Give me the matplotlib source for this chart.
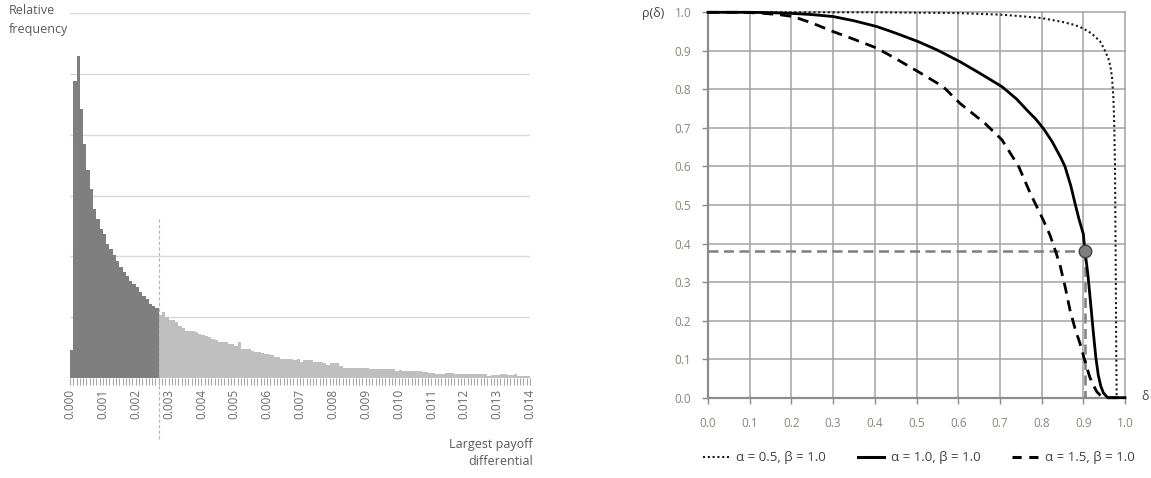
import numpy as np
import matplotlib
matplotlib.use("Agg")
import matplotlib.pyplot as plt
from matplotlib.lines import Line2D

plt.rcParams['font.family'] = ['Open Sans', 'DejaVu Sans']

# ---------------- Left chart data (histogram, bins of 0.0001) ----------------
bin_width = 0.0001
dark_freq = [0.46, 4.89, 5.29, 4.43, 3.85, 3.42, 3.10, 2.78, 2.62, 2.45, 2.36, 2.20, 2.12,
             2.02, 1.92, 1.82, 1.74, 1.67, 1.60, 1.55, 1.50, 1.42, 1.34, 1.30, 1.22, 1.19, 1.15]
light_freq = [1.03, 1.08, 1.00, 0.96, 0.96, 0.92, 0.86, 0.82, 0.78, 0.77, 0.77, 0.76, 0.73,
              0.71, 0.69, 0.67, 0.64, 0.62, 0.60, 0.60, 0.59, 0.56, 0.56, 0.53, 0.59, 0.48,
              0.48, 0.48, 0.45, 0.42, 0.42, 0.41, 0.40, 0.40, 0.37, 0.34, 0.34,
              0.32, 0.31, 0.31, 0.31, 0.29, 0.31, 0.27, 0.30, 0.29, 0.29, 0.27, 0.27, 0.26,
              0.24, 0.22, 0.24, 0.24, 0.24, 0.20, 0.16, 0.16, 0.16, 0.16, 0.16, 0.16, 0.16,
              0.16, 0.14, 0.14, 0.14, 0.14, 0.14, 0.14, 0.14, 0.14, 0.12,
              0.13, 0.12, 0.12, 0.12, 0.11, 0.12, 0.11, 0.10, 0.10, 0.09, 0.09, 0.07, 0.07,
              0.07, 0.08, 0.09, 0.09, 0.07, 0.06, 0.06, 0.06, 0.06, 0.06, 0.06, 0.06, 0.07,
              0.07, 0.04, 0.05, 0.05, 0.05, 0.07, 0.06, 0.05, 0.05, 0.06, 0.04, 0.04, 0.04, 0.04]
hist_tick_values = [0.000, 0.001, 0.002, 0.003, 0.004, 0.005, 0.006, 0.007,
                    0.008, 0.009, 0.010, 0.011, 0.012, 0.013, 0.014]
hist_tick_labels = ["0.000", "0.001", "0.002", "0.003", "0.004", "0.005", "0.006", "0.007",
                    "0.008", "0.009", "0.010", "0.011", "0.012", "0.013", "0.014"]
threshold = 0.0027

# ---------------- Right chart data ----------------
d_a05 = [0.0, 0.1, 0.2, 0.3, 0.4, 0.5, 0.6, 0.7, 0.75, 0.8, 0.85, 0.88, 0.9, 0.92, 0.94,
         0.95, 0.96, 0.965, 0.969, 0.972, 0.974, 0.976, 0.977, 0.978, 0.979, 0.98, 0.99, 1.0]
r_a05 = [1.0, 1.0, 1.0, 1.0, 1.0, 0.999, 0.998, 0.994, 0.99, 0.985, 0.975, 0.967, 0.958, 0.945,
         0.925, 0.905, 0.88, 0.86, 0.83, 0.78, 0.72, 0.60, 0.45, 0.30, 0.12, 0.0, 0.0, 0.0]

d_a10 = [0.0, 0.1, 0.15, 0.204, 0.25, 0.30, 0.35, 0.405, 0.45, 0.504, 0.55, 0.604, 0.65,
         0.705, 0.74, 0.765, 0.785, 0.804, 0.825, 0.845, 0.856, 0.87, 0.88, 0.89, 0.9, 0.904,
         0.911, 0.918, 0.924, 0.93, 0.936, 0.942, 0.948, 0.955, 0.96, 1.0]
r_a10 = [1.0, 1.0, 0.999, 0.997, 0.994, 0.989, 0.978, 0.963, 0.946, 0.924, 0.902, 0.872, 0.843,
         0.807, 0.775, 0.746, 0.724, 0.699, 0.665, 0.625, 0.60, 0.55, 0.505, 0.462, 0.425, 0.38,
         0.32, 0.24, 0.17, 0.105, 0.058, 0.03, 0.013, 0.004, 0.0, 0.0]

d_a15 = [0.0, 0.08, 0.125, 0.17, 0.204, 0.25, 0.30, 0.35, 0.405, 0.45, 0.504, 0.564, 0.604,
         0.664, 0.705, 0.745, 0.773, 0.804, 0.82, 0.835, 0.845, 0.857, 0.868, 0.88, 0.892,
         0.9, 0.908, 0.916, 0.924, 0.932, 0.94, 0.95, 1.0]
r_a15 = [1.0, 1.0, 0.998, 0.994, 0.989, 0.972, 0.95, 0.93, 0.907, 0.88, 0.846, 0.807, 0.764,
         0.712, 0.669, 0.60, 0.53, 0.461, 0.422, 0.375, 0.34, 0.285, 0.228, 0.18, 0.141,
         0.11, 0.08, 0.052, 0.033, 0.016, 0.007, 0.0, 0.0]

point_delta = 0.904
point_rho = 0.38

x_ticks = [0.0, 0.1, 0.2, 0.3, 0.4, 0.5, 0.6, 0.7, 0.8, 0.9, 1.0]
y_ticks = [0.0, 0.1, 0.2, 0.3, 0.4, 0.5, 0.6, 0.7, 0.8, 0.9, 1.0]
tick_fmt = ["0.0", "0.1", "0.2", "0.3", "0.4", "0.5", "0.6", "0.7", "0.8", "0.9", "1.0"]
legend_labels = ["α = 0.5, β = 1.0", "α = 1.0, β = 1.0", "α = 1.5, β = 1.0"]

W, H = 1151, 478
fig = plt.figure(figsize=(W / 100, H / 100), dpi=100)

# ================= Left chart =================
axL = fig.add_axes([70 / W, (H - 378) / H, 460 / W, 365 / H])
n_dark = len(dark_freq)
edges_dark = np.arange(n_dark) * bin_width
edges_light = (np.arange(len(light_freq)) + n_dark) * bin_width
for g in [1, 2, 3, 4, 5, 6]:
    axL.axhline(g, color='#d9d9d9', lw=1.0, zorder=0)
axL.bar(edges_dark, dark_freq, width=bin_width, align='edge', color='#7f7f7f',
        linewidth=0, zorder=2)
axL.bar(edges_light, light_freq, width=bin_width, align='edge', color='#bfbfbf',
        linewidth=0, zorder=2)
axL.plot([threshold, threshold], [2.62, -1.0], color='#b5b5b5', lw=0.8,
         dashes=(3, 2), clip_on=False, zorder=3)
axL.set_xlim(0, 0.014)
axL.set_ylim(0, 6)
for s in axL.spines.values():
    s.set_visible(False)
axL.set_yticks([])
axL.set_xticks(hist_tick_values)
axL.set_xticklabels(hist_tick_labels, rotation=90, fontsize=8.5, color='#6a6a6a')
axL.set_xticks(np.arange(141) * bin_width, minor=True)
axL.tick_params(axis='x', which='both', length=5, width=0.8, color='#a8a8a8',
                direction='out', pad=3)

fig.text(9 / W, 1 - 4 / H, "Relative\nfrequency", ha='left', va='top', fontsize=9,
         color='#595959', linespacing=1.55)
fig.text(533 / W, 1 - 438 / H, "Largest payoff\ndifferential", ha='right', va='top',
         fontsize=9, color='#595959', linespacing=1.4)

# ================= Right chart =================
axR = fig.add_axes([708 / W, (H - 397.7) / H, 417 / W, 385.4 / H])
axR.set_xlim(0, 1)
axR.set_ylim(0, 1)
for v in x_ticks:
    axR.axvline(v, color='#a3a3a3', lw=1.1, zorder=0, clip_on=False)
for v in y_ticks:
    axR.axhline(v, color='#a3a3a3', lw=1.1, zorder=0, clip_on=False)
axR.axvline(0, color='#8c8c8c', lw=1.6, zorder=1, clip_on=False)
axR.axhline(0, color='#8c8c8c', lw=1.6, zorder=1, clip_on=False)
for s in axR.spines.values():
    s.set_visible(False)

axR.plot([0, point_delta], [point_rho, point_rho], color='#7f7f7f', lw=1.8,
         dashes=(4, 2.2), zorder=3)
axR.plot([point_delta, point_delta], [point_rho, 0], color='#7f7f7f', lw=1.8,
         dashes=(4, 2.2), zorder=3)

l1, = axR.plot(d_a05, r_a05, color='#1a1a1a', lw=1.5, dashes=(1, 1.3), zorder=4,
               clip_on=False)
l2, = axR.plot(d_a10, r_a10, color='#000000', lw=2.0, zorder=4, clip_on=False)
l3, = axR.plot(d_a15, r_a15, color='#000000', lw=2.0, dashes=(4, 2.5), zorder=4,
               clip_on=False)
axR.plot([point_delta], [point_rho], 'o', ms=9, mfc='#7f7f7f', mec='#404040', mew=1.0,
         zorder=5)

axR.set_xticks(x_ticks)
axR.set_xticklabels(tick_fmt)
axR.set_yticks(y_ticks)
axR.set_yticklabels(tick_fmt)
axR.tick_params(axis='x', length=4, width=1.0, color='#8c8c8c', direction='out', pad=10,
                labelsize=8.5, labelcolor='#8f8475')
axR.tick_params(axis='y', length=4, width=1.0, color='#8c8c8c', direction='out', pad=8,
                labelsize=8.5, labelcolor='#8f8475')

fig.text(664 / W, 1 - 13 / H, "ρ(δ)", ha='right', va='center', fontsize=9, color='#404040')
fig.text(1145 / W, 1 - 397 / H, "δ", ha='center', va='center', fontsize=9, color='#404040')

h1 = Line2D([], [], color='#1a1a1a', lw=1.5, dashes=(1, 1.3))
h2 = Line2D([], [], color='#000000', lw=2.2)
h3 = Line2D([], [], color='#000000', lw=2.2, dashes=(3, 2.5))
fig.legend([h1, h2, h3], legend_labels, loc='center', bbox_to_anchor=(919 / W, 1 - 458 / H),
           ncol=3, frameon=False, fontsize=9.5, handlelength=2.0, columnspacing=2.4,
           handletextpad=0.5, labelcolor='#404040')

fig.savefig("out.png", dpi=100)
